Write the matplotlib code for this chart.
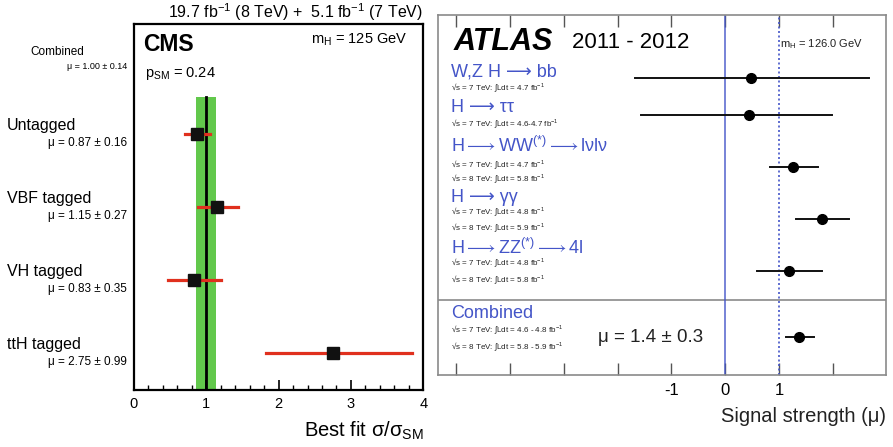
import numpy as np
import matplotlib
matplotlib.use("Agg")
import matplotlib.pyplot as plt
import matplotlib.transforms as mtransforms
from matplotlib.ticker import FixedLocator, FixedFormatter, MultipleLocator

# ── CMS data ──────────────────────────────────────────────────────────────────
cms_labels = ["Untagged", "VBF tagged", "VH tagged", "ttH tagged"]
cms_mu_text = ["0.87", "1.15", "0.83", "2.75"]
cms_err_text = ["0.16", "0.27", "0.35", "0.99"]
cms_mu = [0.87, 1.15, 0.83, 2.75]
cms_lo = [0.71, 0.88, 0.47, 1.83]
cms_hi = [1.05, 1.44, 1.20, 3.84]
cms_rows = [3, 2, 1, 0]
cms_comb_mu = 1.00
cms_comb_err = 0.14

# ── ATLAS data ────────────────────────────────────────────────────────────────
atlas_mu = [0.48, 0.44, 1.26, 1.80, 1.18, 1.37]
atlas_lo = [-1.67, -1.57, 0.83, 1.31, 0.59, 1.13]
atlas_hi = [2.67, 1.98, 1.72, 2.30, 1.80, 1.65]
atlas_rows = [63, 100, 152, 204, 256, 322]
atlas_channels = ["W,Z H ⟶ bb", "H ⟶ ττ",
                  r"H$\longrightarrow$WW$^{(*)}$$\longrightarrow$lνlν",
                  "H ⟶ γγ",
                  r"H$\longrightarrow$ZZ$^{(*)}$$\longrightarrow$4l", "Combined"]
atlas_channel_y = [57, 93, 131, 182, 233, 298]
atlas_lumi = [
    ["√s = 7 TeV: ∫Ldt = 4.7 fb$^{-1}$"],
    ["√s = 7 TeV: ∫Ldt = 4.6-4.7 fb$^{-1}$"],
    ["√s = 7 TeV: ∫Ldt = 4.7 fb$^{-1}$",
     "√s = 8 TeV: ∫Ldt = 5.8 fb$^{-1}$"],
    ["√s = 7 TeV: ∫Ldt = 4.8 fb$^{-1}$",
     "√s = 8 TeV: ∫Ldt = 5.9 fb$^{-1}$"],
    ["√s = 7 TeV: ∫Ldt = 4.8 fb$^{-1}$",
     "√s = 8 TeV: ∫Ldt = 5.8 fb$^{-1}$"],
    ["√s = 7 TeV: ∫Ldt = 4.6 - 4.8 fb$^{-1}$",
     "√s = 8 TeV: ∫Ldt = 5.8 - 5.9 fb$^{-1}$"],
]
atlas_lumi_y = [[73], [109], [150, 164], [197, 213], [248, 265], [315, 332]]
atlas_ticks = [-5, -4, -3, -2, -1, 0, 1, 2]
atlas_ticklabels = ["", "", "", "", "-1", "0", "1", ""]

GREEN = "#62c84c"
RED = "#e0301e"
BLUE = "#4455c8"

plt.rcParams["font.family"] = ["Liberation Sans", "DejaVu Sans"]
plt.rcParams["mathtext.fontset"] = "custom"
plt.rcParams["mathtext.rm"] = "Liberation Sans"
plt.rcParams["mathtext.it"] = "Liberation Sans"
plt.rcParams["mathtext.default"] = "regular"
plt.rcParams["mathtext.fallback"] = "stixsans"

fig = plt.figure(figsize=(8.93, 4.47), dpi=100)

# ── CMS panel ─────────────────────────────────────────────────────────────────
ax = fig.add_axes([0.150, 0.1275, 0.324, 0.8185])
ax.set_xlim(0, 4)
ax.set_ylim(-0.5, 4.5)
ax.fill_betweenx([-0.5, 3.5], cms_comb_mu - cms_comb_err, cms_comb_mu + cms_comb_err,
                 color=GREEN, lw=0, zorder=1)
ax.plot([cms_comb_mu, cms_comb_mu], [-0.5, 3.5], color="black", lw=2, zorder=2)
for y, m, lo, hi in zip(cms_rows, cms_mu, cms_lo, cms_hi):
    ax.plot([lo, hi], [y, y], color=RED, lw=2.3, zorder=3)
    ax.plot(m, y, marker="s", color="#111111", ms=9, zorder=4)

for s in ax.spines.values():
    s.set_linewidth(1.6)
ax.set_yticks([])
ax.xaxis.set_major_locator(MultipleLocator(1))
ax.xaxis.set_minor_locator(MultipleLocator(0.2))
ax.tick_params(axis="x", which="major", direction="in", length=7, width=1.2,
               labelsize=10.5, pad=5)
ax.tick_params(axis="x", which="minor", direction="in", length=3.5, width=1.0)

ax.text(0.031, 0.943, "CMS", transform=ax.transAxes, fontsize=16.5,
        fontweight="bold", va="center", ha="left")
ax.text(0.038, 0.866, "p$_{SM}$ = 0.24", transform=ax.transAxes,
        fontsize=10.5, va="center", ha="left")
ax.text(0.945, 0.956, "m$_{H}$ = 125 GeV", transform=ax.transAxes,
        fontsize=10.5, va="center", ha="right")
fig.text(0.474, 0.972, "19.7 fb$^{-1}$ (8 TeV) +  5.1 fb$^{-1}$ (7 TeV)",
         fontsize=11.5, ha="right", va="center")
fig.text(0.474, 0.036, "Best fit σ/σ$_{SM}$", fontsize=14.5,
         ha="right", va="center")

tr = mtransforms.blended_transform_factory(fig.transFigure, ax.transData)
ax.text(0.034, 4.12, "Combined", transform=tr, fontsize=8.5, ha="left", va="center")
ax.text(0.142, 3.92, "μ = %.2f ± %.2f" % (cms_comb_mu, cms_comb_err),
        transform=tr, fontsize=6.5, ha="right", va="center")
for y, lab, mt, et in zip(cms_rows, cms_labels, cms_mu_text, cms_err_text):
    ax.text(0.008, y + 0.12, lab, transform=tr, fontsize=11.5, ha="left", va="center")
    ax.text(0.142, y - 0.12, "μ = %s ± %s" % (mt, et), transform=tr,
            fontsize=8.5, ha="right", va="center")

# ── ATLAS panel ───────────────────────────────────────────────────────────────
bx = fig.add_axes([0.4905, 0.161, 0.5017, 0.8055])
bx.set_xlim(-5.33, 2.98)
bx.set_ylim(360, 0)
for s in bx.spines.values():
    s.set_color("#8a8a8a")
    s.set_linewidth(1.2)
bx.set_yticks([])
bx.xaxis.set_major_locator(FixedLocator(atlas_ticks))
bx.xaxis.set_major_formatter(FixedFormatter(atlas_ticklabels))
bx.tick_params(axis="x", direction="in", length=8.5, width=1.0, color="#555555",
               top=True, labelsize=12, pad=6)
bx.axhline(285, color="#8a8a8a", lw=1.2)
bx.axvline(0, color=BLUE, lw=1.2, alpha=0.85)
bx.axvline(1, color=BLUE, lw=1.2, ls=(0, (1.2, 1.5)))

for y, m, lo, hi in zip(atlas_rows, atlas_mu, atlas_lo, atlas_hi):
    bx.plot([lo, hi], [y, y], color="#111111", lw=1.4, zorder=3)
    bx.plot(m, y, marker="o", color="black", ms=7, zorder=4)

tb = mtransforms.blended_transform_factory(bx.transAxes, bx.transData)
bx.text(0.035, 27, "ATLAS", transform=tb, fontsize=22, fontweight="bold",
        style="italic", ha="left", va="center")
bx.text(0.299, 28, "2011 - 2012", transform=tb, fontsize=16, ha="left", va="center")
bx.text(0.763, 29, "m$_{H}$ = 126.0 GeV", transform=tb, fontsize=8,
        ha="left", va="center", color="#222222")
for ch, cy, lumi, ly in zip(atlas_channels, atlas_channel_y, atlas_lumi, atlas_lumi_y):
    bx.text(0.03, cy, ch, transform=tb, fontsize=13, color=BLUE, ha="left", va="center")
    for t, yy in zip(lumi, ly):
        bx.text(0.03, yy, t, transform=tb, fontsize=5.8, color="#222222",
                ha="left", va="center")
bx.text(0.357, 322, "μ = 1.4 ± 0.3", transform=tb, fontsize=13.5,
        ha="left", va="center", color="#222222")
fig.text(0.992, 0.068, "Signal strength (μ)", fontsize=14.5, ha="right",
         va="center", color="#222222")

fig.savefig("out.png", dpi=100)
